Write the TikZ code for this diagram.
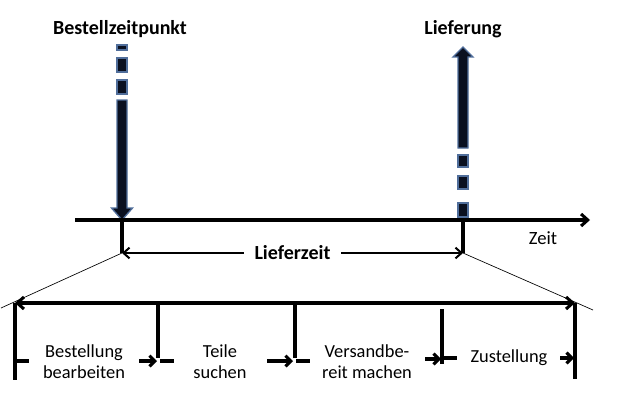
\documentclass[tikz,border=0pt]{standalone}
\usepackage{fontspec}
\setmainfont{Carlito}
\usetikzlibrary{calc,positioning,arrows.meta}
\definecolor{arrowedge}{RGB}{80,110,155}
\definecolor{arrowcore}{RGB}{10,16,32}

\begin{document}
\begin{tikzpicture}[
  x=0.75pt,y=-0.75pt,
  thick line/.style={line width=2.3pt},
  thin line/.style={line width=.5pt},
  barb/.style={-{Straight Barb[length=5pt,width=9pt]}},
  small barb/.style={-{Straight Barb[length=4pt,width=8pt]}},
  fat arrow/.style={draw=arrowedge,fill=arrowcore,line width=1pt},
  title/.style={font=\bfseries\fontsize{15}{18}\selectfont},
  phase/.style={font=\fontsize{13.8}{15.8}\selectfont,align=center},
  ]
  \useasboundingbox (0,0) rectangle (641,403);

  % top labels
  \node[title] (order) at (120,29) {Bestellzeitpunkt};
  \node[title] (delivery) at (463,29) {Lieferung};

  % points on the time axis
  \coordinate (ax start) at (75,220);
  \coordinate (ax end) at (590,220);
  \coordinate (t order) at (122,220);
  \coordinate (t delivery) at (463,220);
  \coordinate (lz start) at (122,253);
  \coordinate (lz end) at (463,253);

  % fat arrows
  \begin{scope}[shift={(t order)}]
    \draw[fat arrow] (-5,-120) -- (5,-120) -- (5,-12) -- (10.5,-12) -- (0,0)
      -- (-10.5,-12) -- (-5,-12) -- cycle;
    \foreach \a/\b in {-175/-170,-162/-148,-140/-126}
      \draw[fat arrow] (-5,\a) rectangle (5,\b);
  \end{scope}
  \begin{scope}[shift={(t delivery)}]
    \draw[fat arrow] (-5,-72) -- (5,-72) -- (5,-163) -- (10,-163) -- (0,-173)
      -- (-10,-163) -- (-5,-163) -- cycle;
    \foreach \a/\b in {-65/-53,-44/-31,-17/-3}
      \draw[fat arrow] (-5,\a) rectangle (5,\b);
  \end{scope}

  % time axis
  \draw[thick line,barb] (ax start) -- (ax end);
  \node[phase,font=\fontsize{14}{16}\selectfont] (time) at (543,238) {Zeit};

  % lead time
  \draw[thick line] (t order) -- (lz start);
  \draw[thick line] (t delivery) -- (lz end);
  \draw[line width=1.5pt,{Straight Barb[length=4.5pt,width=8pt]}-{Straight Barb[length=4.5pt,width=8pt]}]
    (lz start) -- node[title,fill=white,inner xsep=8pt] (leadtime) {Lieferzeit} (lz end);

  % zoom lines
  \coordinate (fan left) at (1,308);
  \coordinate (fan right) at (593,310);
  \draw[thin line] (lz start) -- (fan left);
  \draw[thin line] (lz end) -- (fan right);

  % phases
  \coordinate (b start) at (15,303);
  \coordinate (b end) at (575,303);
  \draw[thick line,{Straight Barb[length=5pt,width=9pt]}-{Straight Barb[length=5pt,width=9pt]}]
    (b start) -- (b end);
  \foreach \x/\ya/\yb in {15/303/380,158/303/358,295/303/358,442/309/364,575/303/379}
    \draw[thick line] (\x,\ya) -- (\x,\yb);
  \foreach \x/\y in {15/361,160/361,296/361,443/358}
    \draw[thick line] (\x,\y) -- ++(14,0);
  \foreach \x/\y/\z in {139/361/157,267/361/293,425/359/441,560/358/574}
    \draw[thick line,small barb] (\x,\y) -- (\z,\y);

  \node[phase] (p1) at (84,362) {Bestellung\\bearbeiten};
  \node[phase] (p2) at (220,362) {Teile\\suchen};
  \node[phase] (p3) at (367,362) {Versandbe-\\reit machen};
  \node[phase] (p4) at (509,358) {Zustellung};

\end{tikzpicture}
\end{document}
